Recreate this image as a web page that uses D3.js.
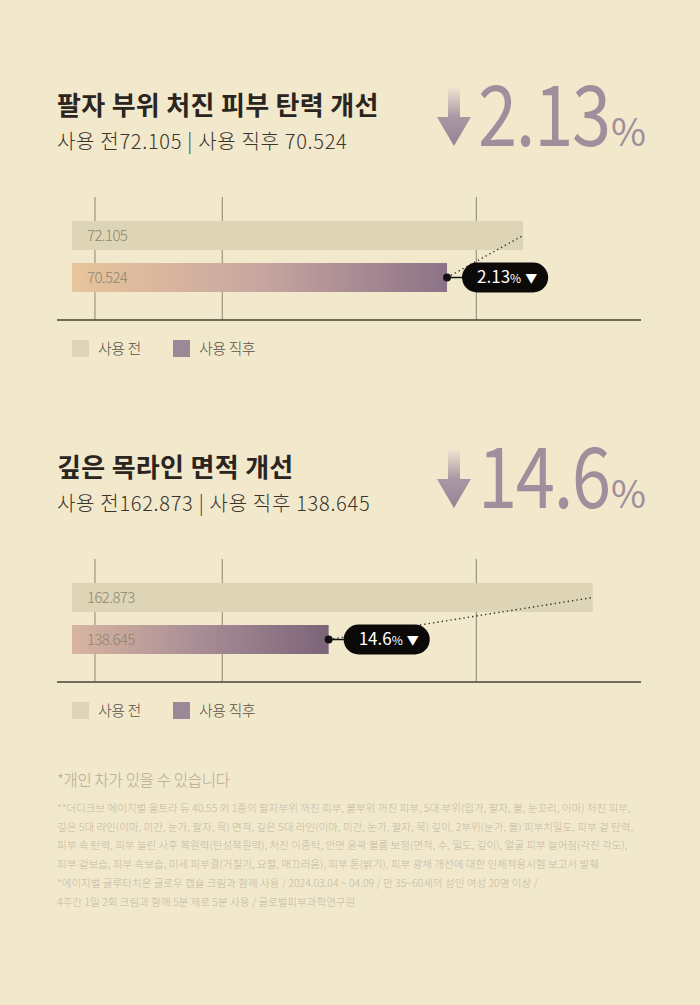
<!DOCTYPE html>
<html>
<head>
<meta charset="utf-8">
<script src="https://cdn.jsdelivr.net/npm/d3@7"></script>
<style>
  html, body { margin: 0; padding: 0; background: #f2e8cc; }
  svg { display: block; }
  text { font-family: "Noto Sans CJK KR", "Noto Sans", sans-serif; }
</style>
</head>
<body>
<div id="chart"></div>
<script>
var categories = ["사용 전", "사용 직후"];
var titles = ["팔자 부위 처진 피부 탄력 개선", "깊은 목라인 면적 개선"];
var beforeValues = [72.105, 162.873];
var afterValues = [70.524, 138.645];
var changeValues = ["2.13", "14.6"];
var domainMin = [62.72, 115.1];
var domainMax = [74.56, 167.3];
var gridFractions = [0.065, 0.283, 0.718];

var footNote = "*개인 차가 있을 수 있습니다";
var footLines = [
  "**더디크브 에이지벌 울트라 듀 40.55 외 1종의 팔자부위 꺼진 피부, 볼부위 꺼진 피부, 5대 부위(입가, 팔자, 볼, 눈꼬리, 이마) 처진 피부,",
  "깊은 5대 라인(이마, 미간, 눈가, 팔자, 목) 면적, 깊은 5대 라인(이마, 미간, 눈가, 팔자, 목) 깊이, 2부위(눈가, 볼) 피부치밀도, 피부 겉 탄력,",
  "피부 속 탄력, 피부 늘린 사후 복원력(탄성복원력), 처진 이중턱, 안면 윤곽 볼륨 보정(면적, 수, 밀도, 깊이), 얼굴 피부 늘어짐(각진 각도),",
  "피부 겉보습, 피부 속보습, 미세 피부결(거칠기, 요철, 매끄러움), 피부 톤(밝기), 피부 광채 개선에 대한 인체적용시험 보고서 발췌",
  "*에이지벌 글루타치온 글로우 캡슐 크림과 함께 사용 / 2024.03.04 ~ 04.09 / 만 35~60세의 성인 여성 20명 이상 /",
  "4주간 1일 2회 크림과 함께 5분 제로 5분 사용 / 글로벌피부과학연구원"
];

var width = 700, height = 1005;
var colBefore = "#ddd5b6", colAfter = "#9d8898", colBig = "#a08e9d";

var svg = d3.select("#chart").append("svg")
    .attr("width", width)
    .attr("height", height);

var defs = svg.append("defs");
var gradStops = [
  [["0%", "#e8c59b"], ["50%", "#c8a6a0"], ["100%", "#8c7287"]],
  [["0%", "#d8b5a0"], ["50%", "#a88d96"], ["100%", "#7c6478"]]
];
gradStops.forEach(function(stops, i) {
  var g = defs.append("linearGradient").attr("id", "barGrad" + i)
      .attr("x1", "0%").attr("x2", "100%").attr("y1", "0%").attr("y2", "0%");
  stops.forEach(function(s) {
    g.append("stop").attr("offset", s[0]).attr("stop-color", s[1]);
  });
});
var arrowGrad = defs.append("linearGradient").attr("id", "arrowGrad")
    .attr("x1", "0%").attr("x2", "0%").attr("y1", "0%").attr("y2", "100%");
arrowGrad.append("stop").attr("offset", "0%").attr("stop-color", "#f0e6d0");
arrowGrad.append("stop").attr("offset", "50%").attr("stop-color", "#ab98a5");
arrowGrad.append("stop").attr("offset", "100%").attr("stop-color", "#978293");

var axisLeft = 57, axisRight = 641, barLeft = 72;
var gx = d3.scaleLinear().domain([0, 1]).range([axisLeft, axisRight]);
var y = d3.scaleBand().domain(categories).range([221, 292]).paddingInner(0.31);

titles.forEach(function(title, i) {
  var g = svg.append("g").attr("transform", "translate(0," + (i * 362) + ")");
  var x = d3.scaleLinear().domain([domainMin[i], domainMax[i]]).range([barLeft, axisRight]);

  g.append("text")
      .attr("x", 57).attr("y", 115)
      .attr("font-size", 26).attr("font-weight", 700)
      .attr("fill", "#2a2520").attr("letter-spacing", 0.3)
      .text(title);

  g.append("text")
      .attr("x", 57).attr("y", 149)
      .attr("font-size", 20).attr("font-weight", 300)
      .attr("fill", "#3a342c").attr("letter-spacing", 0.7)
      .text(categories[0] + beforeValues[i] + " | " + categories[1] + " " + afterValues[i]);

  // big change number
  var big = g.append("g");
  var pct = big.append("text")
      .attr("x", 646).attr("y", 146)
      .attr("text-anchor", "end")
      .attr("font-family", "Liberation Serif, serif")
      .attr("font-size", 38).attr("fill", colBig)
      .text("%");
  var pctX = pct.node().getBBox().x;
  var sx = 0.84;
  var numG = big.append("g")
      .attr("transform", "translate(" + (pctX - 1) + ",146) scale(" + sx + ",1)");
  var num = numG.append("text")
      .attr("x", 0).attr("y", 0)
      .attr("text-anchor", "end")
      .attr("font-family", "Liberation Serif, serif")
      .attr("font-size", 84).attr("fill", colBig)
      .attr("letter-spacing", -1.5)
      .text(changeValues[i]);
  var numX = (pctX - 1) + num.node().getBBox().x * sx;
  var ax = numX - 24;
  big.append("path")
      .attr("d", "M" + (ax - 6) + ",87 L" + (ax + 6) + ",87 L" + (ax + 6) + ",117 L" + (ax + 17) + ",117 L" + ax + ",146 L" + (ax - 17) + ",117 L" + (ax - 6) + ",117 Z")
      .attr("fill", "url(#arrowGrad)");

  // gridlines
  g.selectAll(".grid").data(gridFractions).enter().append("line")
      .attr("x1", gx).attr("x2", gx)
      .attr("y1", 197).attr("y2", 320)
      .attr("stroke", "#756b5c").attr("stroke-width", 0.8);

  var vals = [beforeValues[i], afterValues[i]];
  g.selectAll(".bar").data(vals).enter().append("rect")
      .attr("x", barLeft)
      .attr("y", function(d, j) { return y(categories[j]); })
      .attr("width", function(d) { return x(d) - barLeft; })
      .attr("height", y.bandwidth())
      .attr("fill", function(d, j) { return j === 0 ? colBefore : "url(#barGrad" + i + ")"; });

  g.selectAll(".blabel").data(vals).enter().append("text")
      .attr("x", 87)
      .attr("y", function(d, j) { return y(categories[j]) + y.bandwidth() / 2; })
      .attr("dy", "0.35em")
      .attr("font-size", 15).attr("font-weight", 300)
      .attr("fill", "#8e8571").attr("letter-spacing", -0.6)
      .text(function(d) { return d; });

  g.append("line")
      .attr("x1", axisLeft).attr("x2", axisRight)
      .attr("y1", 320).attr("y2", 320)
      .attr("stroke", "#4a4132").attr("stroke-width", 1.5);

  // connector + badge
  var ex = x(afterValues[i]), ey = y(categories[1]) + y.bandwidth() / 2;
  var bx = x(beforeValues[i]), by = y(categories[0]) + y.bandwidth() / 2;
  g.append("line")
      .attr("x1", ex).attr("y1", ey).attr("x2", bx).attr("y2", by)
      .attr("stroke", "#3a342c").attr("stroke-width", 1.4)
      .attr("stroke-dasharray", "1.4,3");

  var pillX = ex + 15;
  g.append("line")
      .attr("x1", ex).attr("x2", pillX + 2).attr("y1", ey).attr("y2", ey)
      .attr("stroke", "#111").attr("stroke-width", 1.5);
  g.append("circle").attr("cx", ex).attr("cy", ey).attr("r", 4).attr("fill", "#111");

  var pill = g.append("rect").attr("y", ey - 15).attr("height", 30)
      .attr("rx", 15).attr("fill", "#0c0a08");
  var lab = g.append("text")
      .attr("y", ey).attr("dy", "0.36em")
      .attr("fill", "#fff").attr("font-family", "Roboto, sans-serif");
  lab.append("tspan").attr("font-size", 17).attr("font-weight", 400).text(changeValues[i]);
  lab.append("tspan").attr("font-size", 12).attr("font-weight", 400).text("%");
  lab.append("tspan").attr("font-size", 12).attr("dx", 4).text("▼");
  var lw = lab.node().getComputedTextLength();
  var pw = lw + 30;
  pill.attr("x", pillX).attr("width", pw);
  lab.attr("x", pillX + 15);

  // legend
  var lg = g.selectAll(".leg").data(categories).enter().append("g")
      .attr("transform", function(d, j) { return "translate(" + (72 + j * 101) + ",340)"; });
  lg.append("rect").attr("width", 17).attr("height", 17)
      .attr("fill", function(d, j) { return j === 0 ? colBefore : colAfter; });
  lg.append("text").attr("x", 26).attr("y", 9).attr("dy", "0.35em")
      .attr("font-size", 15).attr("font-weight", 300)
      .attr("fill", "#5a5245").attr("letter-spacing", -0.5)
      .text(function(d) { return d; });
});

svg.append("text")
    .attr("x", 57).attr("y", 786)
    .attr("font-size", 15.5).attr("font-weight", 300)
    .attr("fill", "#b3aa96").attr("letter-spacing", -0.3)
    .text(footNote);

svg.selectAll(".foot").data(footLines).enter().append("text")
    .attr("x", 57)
    .attr("y", function(d, j) { return 812 + j * 18.7; })
    .attr("font-size", 10.55).attr("font-weight", 300)
    .attr("fill", "#c2b9a3").attr("letter-spacing", 0)
    .text(function(d) { return d; });
</script>
</body>
</html>
